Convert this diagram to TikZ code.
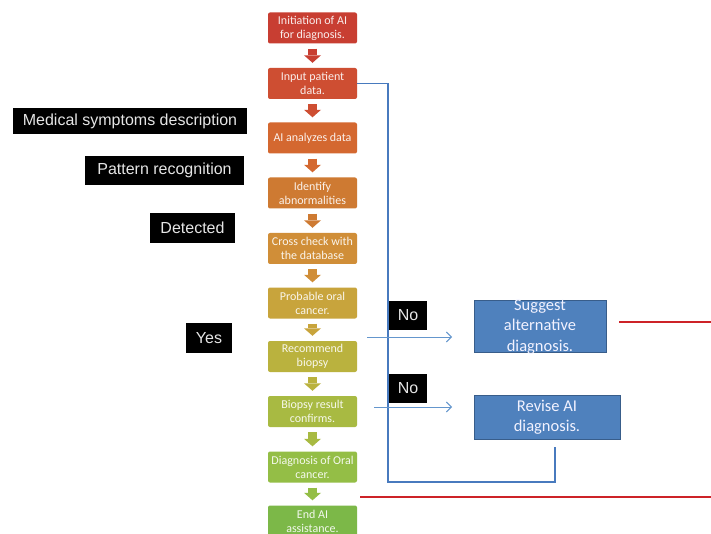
\documentclass[tikz,border=0pt]{standalone}
\usepackage{fontspec}
\setmainfont{Carlito}
\newfontfamily\lab{Liberation Sans}
\usetikzlibrary{arrows.meta}
\definecolor{c1}{RGB}{200,62,50}
\definecolor{c2}{RGB}{206,78,50}
\definecolor{c3}{RGB}{212,104,48}
\definecolor{c4}{RGB}{206,122,50}
\definecolor{c5}{RGB}{208,142,56}
\definecolor{c6}{RGB}{200,164,60}
\definecolor{c7}{RGB}{186,178,62}
\definecolor{c8}{RGB}{168,186,66}
\definecolor{c9}{RGB}{148,190,70}
\definecolor{c10}{RGB}{124,184,72}
\definecolor{offblue}{RGB}{79,129,189}
\definecolor{offborder}{RGB}{56,93,138}
\definecolor{lineblue}{RGB}{72,122,190}
\definecolor{thinblue}{RGB}{100,150,205}
\definecolor{redline}{RGB}{205,35,40}
\tikzset{
  flowbox/.style={rounded corners=2pt, minimum width=89pt, minimum height=31pt,
    inner sep=1pt, align=center, text=white, text opacity=0.9,
    font=\fontsize{12}{14}\selectfont},
  blockarr/.style={line width=9pt, -{Triangle[width=17pt,length=7.5pt,line width=0pt]}, shorten <=5pt, shorten >=5pt},
  blabel/.style={fill=black, text=white!90!black, inner sep=0pt, font=\lab\fontsize{16}{18}\selectfont},
  bluebox/.style={fill=offblue, draw=offborder, line width=1pt, align=center, text=white!95!blue,
    font=\fontsize{16.5}{20.5}\selectfont, inner sep=0pt},
  blueline/.style={draw=lineblue, line width=1.8pt},
  thinarr/.style={draw=thinblue, line width=0.9pt, -{Straight Barb[length=5pt,width=10pt]}},
  redl/.style={draw=redline, line width=2.4pt}
}
\begin{document}
\begin{tikzpicture}[x=1pt,y=-1pt]
\useasboundingbox (0,0) rectangle (711,534);
\fill[white] (0,0) rectangle (711,534);
% flow boxes
\node[flowbox, fill=c1] (b1) at (312.5,28) {Initiation of AI\\for diagnosis.};
\node[flowbox, fill=c2] (b2) at (312.5,83.5) {Input patient\\data.};
\node[flowbox, fill=c3] (b3) at (312.5,138) {AI analyzes data};
\node[flowbox, fill=c4] (b4) at (312.5,193) {Identify\\abnormalities};
\node[flowbox, fill=c5] (b5) at (312.5,248.5) {Cross check with\\the database};
\node[flowbox, fill=c6] (b6) at (312.5,303) {Probable oral\\cancer.};
\node[flowbox, fill=c7] (b7) at (312.5,356.5) {Recommend\\biopsy};
\node[flowbox, fill=c8] (b8) at (312.5,411.5) {Biopsy result\\confirms.};
\node[flowbox, fill=c9] (b9) at (312.5,467) {Diagnosis of Oral\\cancer.};
\node[flowbox, fill=c10] (b10) at (312.5,521) {End AI\\assistance.};
% block arrows
\draw[blockarr, c1] (b1.south) -- (b2.north);
\draw[blockarr, c2] (b2.south) -- (b3.north);
\draw[blockarr, c3] (b3.south) -- (b4.north);
\draw[blockarr, c4] (b4.south) -- (b5.north);
\draw[blockarr, c5] (b5.south) -- (b6.north);
\draw[blockarr, c6] (b6.south) -- (b7.north);
\draw[blockarr, c7] (b7.south) -- (b8.north);
\draw[blockarr, c8] (b8.south) -- (b9.north);
\draw[blockarr, c9] (b9.south) -- (b10.north);
% blue boxes
\node[bluebox, minimum width=132pt, minimum height=52pt] (sug) at (540,326) {};
\node[font=\fontsize{16.5}{20.5}\selectfont, text=white!95!blue, align=center, inner sep=0pt] (sugt) at (540,327) {Suggest\\alternative\\diagnosis.};
\node[bluebox, minimum width=146pt, minimum height=44pt] (rev) at (547,417) {Revise AI\\diagnosis.};
% blue loop line
\coordinate (loopend) at (555,447);
\draw[blueline] (b2.east) -- ++(31,0) |- (555,482) -- (loopend);
% thin arrows
\coordinate (a1s) at (367,337);
\coordinate (a1e) at (452,337);
\coordinate (a2s) at (374,407);
\coordinate (a2e) at (452,407);
\draw[thinarr] (a1s) -- (a1e);
\draw[thinarr] (a2s) -- (a2e);
% red lines
\coordinate (r1s) at (619,322);
\coordinate (r1e) at (711,322);
\coordinate (r2s) at (360,497);
\coordinate (r2e) at (711,497);
\draw[redl] (r1s) -- (r1e);
\draw[redl] (r2s) -- (r2e);
% black labels
\node[blabel, minimum width=234pt, minimum height=26pt] (med) at (130,121) {Medical symptoms description};
\node[blabel, minimum width=159pt, minimum height=29pt] (pat) at (164.5,170.5) {Pattern recognition};
\node[blabel, minimum width=85pt, minimum height=30pt] (det) at (192.5,228) {Detected};
\node[blabel, minimum width=46pt, minimum height=30pt] (yes) at (209,338) {Yes};
\node[blabel, minimum width=38pt, minimum height=29pt] (no1) at (408,315.5) {No};
\node[blabel, minimum width=38pt, minimum height=29pt] (no2) at (408,388.5) {No};
\end{tikzpicture}
\end{document}
